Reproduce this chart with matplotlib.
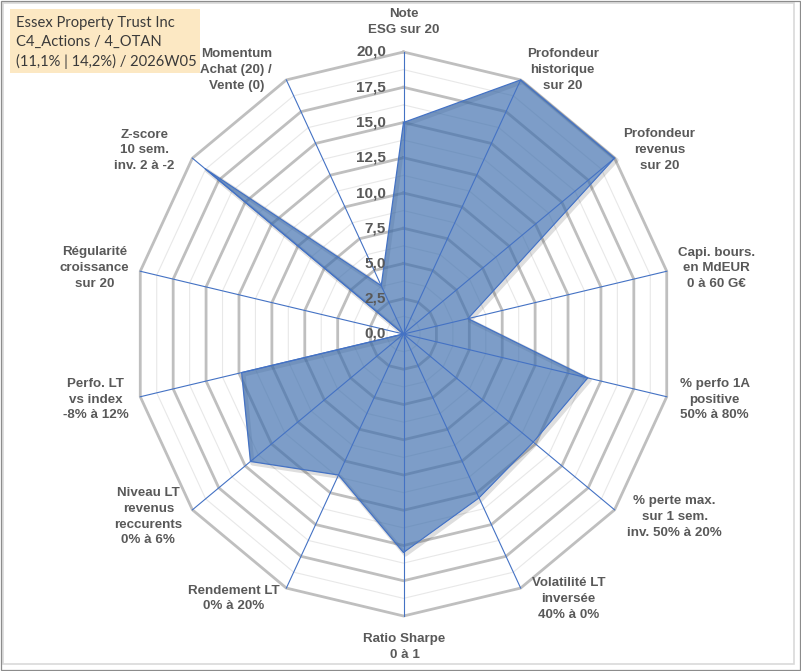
import numpy as np
import matplotlib
matplotlib.use("Agg")
import matplotlib.pyplot as plt
from matplotlib.patches import Rectangle
import matplotlib.transforms as mtransforms

# ---------------- data ----------------
categories = [
    "Note\nESG sur 20",
    "Profondeur\nhistorique\nsur 20",
    "Profondeur\nrevenus\nsur 20",
    "Capi. bours.\nen MdEUR\n0 à 60 G€",
    "% perfo 1A\npositive\n50% à 80%",
    "% perte max.\nsur 1 sem.\ninv. 50% à 20%",
    "Volatilité LT\ninversée\n40% à 0%",
    "Ratio Sharpe\n0 à 1",
    "Rendement LT\n0% à 20%",
    "Niveau LT\nrevenus\nreccurents\n0% à 6%",
    "Perfo. LT\nvs index\n-8% à 12%",
    "Régularité\ncroissance\nsur 20",
    "Z-score\n10 sem.\ninv. 2 à -2",
    "Momentum\nAchat (20) /\nVente (0)",
]
values = [15.0, 20.0, 20.0, 4.9, 14.0, 12.3, 12.9, 15.5, 11.1, 14.5, 12.3, 0.0, 18.8, 3.8]
r_ticks = [0.0, 2.5, 5.0, 7.5, 10.0, 12.5, 15.0, 17.5, 20.0]
tick_labels = ["0,0", "2,5", "5,0", "7,5", "10,0", "12,5", "15,0", "17,5", "20,0"]
title_lines = ["Essex Property Trust Inc", "C4_Actions / 4_OTAN", "(11,1% | 14,2%) / 2026W05"]

# ---------------- layout ----------------
# label offsets (pixels) from the end of each spoke
label_offsets = [(0, 30), (42, 10), (45, 8), (50, 3), (48, -3), (60, -7), (48, -11),
                 (1, -31), (-53, -10.5), (-44, -7), (-44.5, -3), (-46, 3.4), (-48, 7.7), (-50, 10)]

W, H = 801, 671
fig = plt.figure(figsize=(W / 100, H / 100), dpi=100)
fig.patch.set_facecolor("white")

cx, cy = 403.5, 334.0
rx, ry = 270.0, 282.0
ax = fig.add_axes([(cx - rx) / W, (H - cy - ry) / H, 2 * rx / W, 2 * ry / H], projection="polar")
ax.set_aspect("auto")
ax.set_theta_zero_location("N")
ax.set_theta_direction(-1)
rmax = r_ticks[-1]
ax.set_ylim(0, rmax)
ax.grid(False)
ax.set_xticks([])
ax.set_yticks([])
ax.spines["polar"].set_visible(False)
ax.patch.set_alpha(0)

N = len(categories)
theta = np.arange(N) * 2 * np.pi / N
theta_c = np.append(theta, theta[0])

# polygonal grid
step = r_ticks[1] - r_ticks[0]
for k in range(1, 17):
    r = k * step / 2
    major = (k % 2 == 0)
    ax.plot(theta_c, [r] * (N + 1),
            color="#BFBFBF" if major else "#E8E8E8",
            lw=2.0 if major else 0.8, zorder=1 if major else 0.9,
            clip_on=False, solid_joinstyle="miter")

# shadow
shadow_tr = mtransforms.offset_copy(ax.transData, fig=fig, x=2, y=-2, units="dots")
vals_c = np.append(values, values[0])
ax.plot(theta_c, vals_c, color="black", alpha=0.13, lw=3, transform=shadow_tr, zorder=2, clip_on=False)

# data polygon
ax.fill(theta_c, vals_c, color="#3F6FAE", alpha=0.68, zorder=3, lw=0)
ax.plot(theta_c, vals_c, color="#4472C4", lw=0.9, zorder=4, clip_on=False)

# spokes
for t in theta:
    ax.plot([t, t], [0, rmax], color="#4472C4", lw=0.8, zorder=5, clip_on=False)

# tick labels
for v, lab in zip(r_ticks, tick_labels):
    ax.annotate(lab, xy=(0, v), xytext=(-17.5, 0), textcoords="offset pixels",
                ha="right", va="center", fontsize=11, fontweight="bold",
                family="Liberation Sans", color="#595959", zorder=6, annotation_clip=False)

# category labels
for t, lab, (dx, dy) in zip(theta, categories, label_offsets):
    ax.annotate(lab, xy=(t, rmax), xytext=(dx, dy), textcoords="offset pixels",
                ha="center", va="center", multialignment="center",
                fontsize=9.6, fontweight="bold", family="Liberation Sans",
                color="#595959", linespacing=1.41, annotation_clip=False, zorder=6)

# title box
fig.add_artist(Rectangle((10 / W, 1 - 73 / H), 190 / W, 64 / H, transform=fig.transFigure,
                         facecolor="#FCE8C3", edgecolor="none", zorder=0))
for i, line in enumerate(title_lines):
    fig.text(16 / W, 1 - (22.7 + 19.6 * i) / H, line, ha="left", va="center",
             fontsize=10.6, family="Lato", color="#3A3A3A")

# chart frame
fig.add_artist(Rectangle((3 / W, 1 - 664 / H), 791 / W, 661 / H, transform=fig.transFigure,
                         facecolor="none", edgecolor="#D9D9D9", lw=1.2))
fig.add_artist(Rectangle((0.5 / W, 1 - 669.5 / H), 799 / W, 669 / H, transform=fig.transFigure,
                         facecolor="none", edgecolor="#8C8C8C", lw=0.9))

fig.savefig("out.png", dpi=100)
